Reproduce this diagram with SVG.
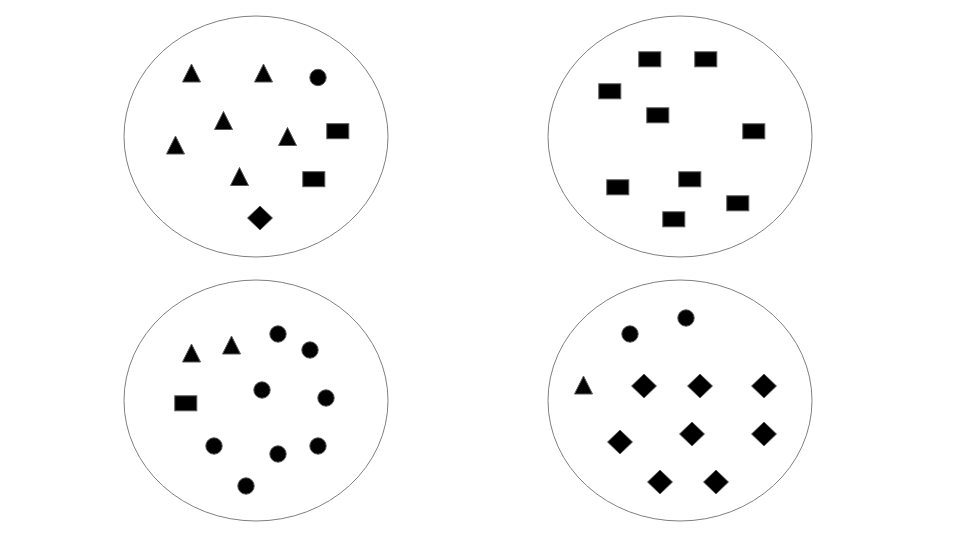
<svg xmlns="http://www.w3.org/2000/svg" width="960" height="540" viewBox="0 0 960 540">
<style>
.set{fill:#ffffff;stroke:#7f7f7f;stroke-width:1}
.s{fill:#000000;stroke:#595959;stroke-width:1}
</style>
<defs>
<polygon id="tri" points="0,-9 9,9 -9,9"/>
<rect id="rct" x="-11" y="-7.5" width="22" height="15"/>
<circle id="cir" r="8.2"/>
<polygon id="dia" points="0,-12 12.5,0 0,12 -12.5,0"/>
</defs>
<rect width="960" height="540" fill="#ffffff"/>
<g id="set1">
<ellipse class="set" cx="256" cy="136.5" rx="132" ry="120.5"/>
<use href="#tri" class="s" x="191.5" y="73"/>
<use href="#tri" class="s" x="263.5" y="73"/>
<use href="#cir" class="s" x="318" y="77.5"/>
<use href="#tri" class="s" x="223.5" y="120.5"/>
<use href="#rct" class="s" x="337.8" y="131.2"/>
<use href="#tri" class="s" x="175.5" y="145"/>
<use href="#tri" class="s" x="287.5" y="136.5"/>
<use href="#tri" class="s" x="239.5" y="176.5"/>
<use href="#rct" class="s" x="313.8" y="179.2"/>
<use href="#dia" class="s" x="260" y="218"/>
</g>
<g id="set2">
<ellipse class="set" cx="680" cy="136.5" rx="132" ry="120.5"/>
<use href="#rct" class="s" x="649.8" y="59.3"/>
<use href="#rct" class="s" x="705.8" y="59.3"/>
<use href="#rct" class="s" x="609.8" y="91.3"/>
<use href="#rct" class="s" x="657.8" y="115.3"/>
<use href="#rct" class="s" x="753.8" y="131.3"/>
<use href="#rct" class="s" x="617.8" y="187.3"/>
<use href="#rct" class="s" x="689.8" y="179.3"/>
<use href="#rct" class="s" x="737.8" y="203.3"/>
<use href="#rct" class="s" x="673.8" y="219.3"/>
</g>
<g id="set3">
<ellipse class="set" cx="256" cy="400.5" rx="132" ry="120.5"/>
<use href="#tri" class="s" x="191.5" y="353"/>
<use href="#tri" class="s" x="231.5" y="345"/>
<use href="#cir" class="s" x="278" y="334"/>
<use href="#cir" class="s" x="310" y="350"/>
<use href="#cir" class="s" x="262" y="390"/>
<use href="#cir" class="s" x="326" y="398"/>
<use href="#rct" class="s" x="185.8" y="403.3"/>
<use href="#cir" class="s" x="214" y="446"/>
<use href="#cir" class="s" x="278" y="454"/>
<use href="#cir" class="s" x="318" y="446"/>
<use href="#cir" class="s" x="246" y="486"/>
</g>
<g id="set4">
<ellipse class="set" cx="680" cy="400.5" rx="132" ry="120.5"/>
<use href="#cir" class="s" x="630" y="334"/>
<use href="#cir" class="s" x="686" y="318"/>
<use href="#tri" class="s" x="583.5" y="385"/>
<use href="#dia" class="s" x="644" y="386"/>
<use href="#dia" class="s" x="700" y="386"/>
<use href="#dia" class="s" x="764" y="386"/>
<use href="#dia" class="s" x="620" y="442"/>
<use href="#dia" class="s" x="692" y="434"/>
<use href="#dia" class="s" x="764" y="434"/>
<use href="#dia" class="s" x="660" y="482"/>
<use href="#dia" class="s" x="716" y="482"/>
</g>
<g id="connectors"/>
</svg>
